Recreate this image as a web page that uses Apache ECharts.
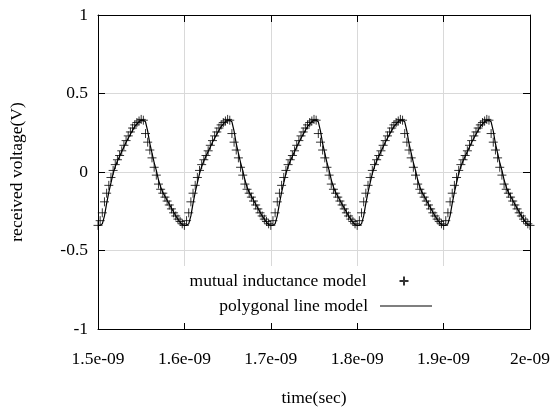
<!DOCTYPE html>
<html>
<head>
<meta charset="utf-8">
<script src="https://cdn.jsdelivr.net/npm/echarts@6/dist/echarts.min.js"></script>
<style>
  html, body { margin: 0; padding: 0; background: #fff; }
  #chart { width: 557px; height: 412px; }
</style>
</head>
<body>
<div id="chart"></div>
<script>
// time axis in ps (labels shown as seconds), samples every 2.5 ps
const startPs = 1500
const stepPs = 2.5
const xTicks = ['1.5e-09', '1.6e-09', '1.7e-09', '1.8e-09', '1.9e-09', '2e-09']
const yTicks = ['-1', '-0.5', '0', '0.5', '1']

// mutual inductance model (crosses)
const mutualVolts = [
  -0.34, -0.31, -0.26, -0.19, -0.135, -0.085, -0.035, 0.01, 0.047, 0.078,
  0.105, 0.135, 0.17, 0.2, 0.23, 0.255, 0.28, 0.3, 0.315, 0.325,
  0.335, 0.33, 0.245, 0.19, 0.14, 0.09, 0.03, -0.02, -0.077, -0.11,
  -0.135, -0.16, -0.185, -0.21, -0.235, -0.26, -0.28, -0.3, -0.315, -0.33,
  -0.34, -0.31, -0.26, -0.19, -0.135, -0.085, -0.035, 0.01, 0.047, 0.078,
  0.105, 0.135, 0.17, 0.2, 0.23, 0.255, 0.28, 0.3, 0.315, 0.325,
  0.335, 0.33, 0.245, 0.19, 0.14, 0.09, 0.03, -0.02, -0.077, -0.11,
  -0.135, -0.16, -0.185, -0.21, -0.235, -0.26, -0.28, -0.3, -0.315, -0.33,
  -0.34, -0.31, -0.26, -0.19, -0.135, -0.085, -0.035, 0.01, 0.047, 0.078,
  0.105, 0.135, 0.17, 0.2, 0.23, 0.255, 0.28, 0.3, 0.315, 0.325,
  0.335, 0.33, 0.245, 0.19, 0.14, 0.09, 0.03, -0.02, -0.077, -0.11,
  -0.135, -0.16, -0.185, -0.21, -0.235, -0.26, -0.28, -0.3, -0.315, -0.33,
  -0.34, -0.31, -0.26, -0.19, -0.135, -0.085, -0.035, 0.01, 0.047, 0.078,
  0.105, 0.135, 0.17, 0.2, 0.23, 0.255, 0.28, 0.3, 0.315, 0.325,
  0.335, 0.33, 0.245, 0.19, 0.14, 0.09, 0.03, -0.02, -0.077, -0.11,
  -0.135, -0.16, -0.185, -0.21, -0.235, -0.26, -0.28, -0.3, -0.315, -0.33,
  -0.34, -0.31, -0.26, -0.19, -0.135, -0.085, -0.035, 0.01, 0.047, 0.078,
  0.105, 0.135, 0.17, 0.2, 0.23, 0.255, 0.28, 0.3, 0.315, 0.325,
  0.335, 0.33, 0.245, 0.19, 0.14, 0.09, 0.03, -0.02, -0.077, -0.11,
  -0.135, -0.16, -0.185, -0.21, -0.235, -0.26, -0.28, -0.3, -0.315, -0.33,
  -0.34
]

// polygonal line model (solid line)
const polygonVolts = [
  -0.34, -0.34, -0.33, -0.28, -0.2, -0.13, -0.07, -0.01, 0.035, 0.07,
  0.1, 0.13, 0.16, 0.19, 0.215, 0.24, 0.265, 0.29, 0.305, 0.32,
  0.33, 0.33, 0.32, 0.26, 0.18, 0.12, 0.06, 0.01, -0.05, -0.095,
  -0.13, -0.155, -0.18, -0.205, -0.23, -0.255, -0.28, -0.3, -0.32, -0.335,
  -0.34, -0.34, -0.33, -0.28, -0.2, -0.13, -0.07, -0.01, 0.035, 0.07,
  0.1, 0.13, 0.16, 0.19, 0.215, 0.24, 0.265, 0.29, 0.305, 0.32,
  0.33, 0.33, 0.32, 0.26, 0.18, 0.12, 0.06, 0.01, -0.05, -0.095,
  -0.13, -0.155, -0.18, -0.205, -0.23, -0.255, -0.28, -0.3, -0.32, -0.335,
  -0.34, -0.34, -0.33, -0.28, -0.2, -0.13, -0.07, -0.01, 0.035, 0.07,
  0.1, 0.13, 0.16, 0.19, 0.215, 0.24, 0.265, 0.29, 0.305, 0.32,
  0.33, 0.33, 0.32, 0.26, 0.18, 0.12, 0.06, 0.01, -0.05, -0.095,
  -0.13, -0.155, -0.18, -0.205, -0.23, -0.255, -0.28, -0.3, -0.32, -0.335,
  -0.34, -0.34, -0.33, -0.28, -0.2, -0.13, -0.07, -0.01, 0.035, 0.07,
  0.1, 0.13, 0.16, 0.19, 0.215, 0.24, 0.265, 0.29, 0.305, 0.32,
  0.33, 0.33, 0.32, 0.26, 0.18, 0.12, 0.06, 0.01, -0.05, -0.095,
  -0.13, -0.155, -0.18, -0.205, -0.23, -0.255, -0.28, -0.3, -0.32, -0.335,
  -0.34, -0.34, -0.33, -0.28, -0.2, -0.13, -0.07, -0.01, 0.035, 0.07,
  0.1, 0.13, 0.16, 0.19, 0.215, 0.24, 0.265, 0.29, 0.305, 0.32,
  0.33, 0.33, 0.32, 0.26, 0.18, 0.12, 0.06, 0.01, -0.05, -0.095,
  -0.13, -0.155, -0.18, -0.205, -0.23, -0.255, -0.28, -0.3, -0.32, -0.335,
  -0.34
]

const font = 'Liberation Serif'
const fontSize = 17.5
const crossPath = 'path://M0,5L10,5M5,0L5,10'

const toPairs = vals => vals.map((v, i) => [startPs + i * stepPs, v])

const chart = echarts.init(document.getElementById('chart'))

const boxAxis = {
  axisLine: { show: true, onZero: false, lineStyle: { color: '#000', width: 1 } },
  axisTick: { show: true, inside: true, length: 7, lineStyle: { color: '#000' } }
}

chart.setOption({
  animation: false,
  backgroundColor: '#fff',
  textStyle: { fontFamily: font },
  grid: { left: 98, right: 27, top: 15, bottom: 76 },
  xAxis: [
    {
      type: 'value', min: 1500, max: 2000, interval: 100, position: 'bottom',
      name: 'time(sec)', nameLocation: 'middle', nameGap: 60,
      nameTextStyle: { fontFamily: font, fontSize: fontSize, color: '#000' },
      ...boxAxis,
      axisLabel: {
        margin: 21, fontFamily: font, fontSize: fontSize, color: '#000',
        formatter: v => xTicks[Math.round((v - 1500) / 100)]
      },
      splitLine: { show: true, lineStyle: { color: '#d9d9d9', width: 1 } }
    },
    {
      type: 'value', min: 1500, max: 2000, interval: 100, position: 'top',
      ...boxAxis, axisLabel: { show: false }, splitLine: { show: false }
    }
  ],
  yAxis: [
    {
      type: 'value', min: -1, max: 1, interval: 0.5, position: 'left',
      name: 'received voltage(V)', nameLocation: 'middle', nameGap: 72, nameRotate: 90,
      nameTextStyle: { fontFamily: font, fontSize: fontSize, color: '#000' },
      ...boxAxis,
      axisLabel: {
        margin: 10, fontFamily: font, fontSize: fontSize, color: '#000',
        formatter: v => yTicks[Math.round((v + 1) / 0.5)]
      },
      splitLine: { show: true, lineStyle: { color: '#d9d9d9', width: 1 } }
    },
    {
      type: 'value', min: -1, max: 1, interval: 0.5, position: 'right',
      ...boxAxis, axisLabel: { show: false }, splitLine: { show: false }
    }
  ],
  legend: [
    {
      data: ['mutual inductance model'],
      align: 'right', right: 107, top: 266,
      padding: [6, 39, 6, 15],
      backgroundColor: '#fff',
      itemWidth: 9, itemHeight: 9,
      textStyle: { fontFamily: font, fontSize: fontSize, color: '#000', padding: [0, 28, 0, 0] }
    },
    {
      data: [{ name: 'polygonal line model', icon: 'rect' }],
      align: 'right', right: 107, top: 292,
      padding: [5, 18, 8, 40],
      backgroundColor: '#fff',
      itemWidth: 52, itemHeight: 1,
      textStyle: { fontFamily: font, fontSize: fontSize, color: '#000', padding: [0, 7, 0, 0] }
    }
  ],
  series: [
    {
      name: 'mutual inductance model',
      type: 'scatter',
      symbol: crossPath,
      symbolSize: 9,
      itemStyle: { color: 'none', borderColor: '#000', borderWidth: 1 },
      data: toPairs(mutualVolts),
      z: 3
    },
    {
      name: 'polygonal line model',
      type: 'line',
      symbol: 'none',
      lineStyle: { color: '#000', width: 1.2 },
      itemStyle: { color: '#000' },
      data: toPairs(polygonVolts),
      z: 4
    }
  ]
})
</script>
</body>
</html>
